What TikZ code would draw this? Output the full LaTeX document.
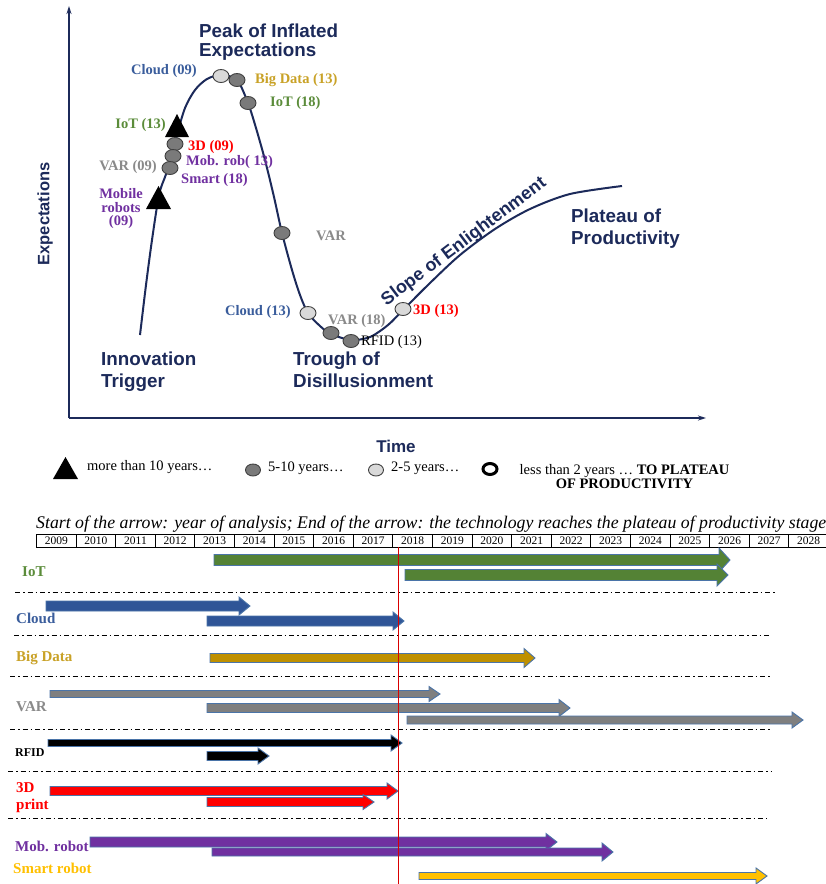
\documentclass[tikz,border=0pt]{standalone}
\usepackage{fontspec}
\setmainfont{Liberation Serif}
\newfontfamily\gsans{Liberation Sans}
\usetikzlibrary{arrows.meta,shapes.geometric}
\definecolor{navy}{HTML}{1C2A5A}
\definecolor{cBlue}{HTML}{3A5D9C}
\definecolor{cGold}{HTML}{C9A227}
\definecolor{cGreen}{HTML}{5B8C3A}
\definecolor{cRed}{HTML}{FF0000}
\definecolor{cPurple}{HTML}{7030A0}
\definecolor{cGray}{HTML}{8A8A8A}
\definecolor{aGreen}{HTML}{548235}
\definecolor{aBlue}{HTML}{2F5597}
\definecolor{aGold}{HTML}{BF9000}
\definecolor{aGray}{HTML}{7F7F7F}
\definecolor{aYellow}{HTML}{FFC000}
\definecolor{aEdge}{HTML}{4A74A8}
\definecolor{dotDark}{HTML}{7A7A7A}
\definecolor{dotLight}{HTML}{D9D9D9}
\newcommand\blockarrow[6]{%
  \draw[aedge, fill=#1] (#2,{#4-#5/2}) -- ({#3-11},{#4-#5/2}) -- ({#3-11},{#4-#6/2}) -- (#3,#4) -- ({#3-11},{#4+#6/2}) -- ({#3-11},{#4+#5/2}) -- (#2,{#4+#5/2}) -- cycle;}
\tikzset{
  aedge/.style={draw=aEdge, line width=0.9pt, line join=miter},
  stage/.style={font=\gsans\bfseries\fontsize{18.8}{20}\selectfont, text=navy, inner sep=0pt, anchor=base west},
  clbl/.style={font=\bfseries\fontsize{14.5}{15}\selectfont, inner sep=0pt},
  tlbl/.style={font=\bfseries\fontsize{15}{16}\selectfont, inner sep=0pt, anchor=west},
  leg/.style={font=\fontsize{14.5}{16}\selectfont, inner sep=0pt},
  darkdot/.style={ellipse, draw=black!75, line width=0.9pt, fill=dotDark, minimum width=16pt, minimum height=13pt, inner sep=0pt},
  lightdot/.style={ellipse, draw=black!75, line width=0.9pt, fill=dotLight, minimum width=16pt, minimum height=13pt, inner sep=0pt},
  sep/.style={line width=1pt, dash pattern=on 5pt off 3pt on 1.5pt off 3pt},
  yearcell/.style={draw=black, line width=0.9pt},
}
\begin{document}
\begin{tikzpicture}[x=1pt,y=-1pt]
\useasboundingbox[fill=white] (0,0) rectangle (826,884);

% axes
\draw[navy, line width=2.2pt, -{Stealth[length=8pt,width=5pt]}] (69,418) -- (706,418);
\draw[navy, line width=2.2pt, -{Stealth[length=8pt,width=5pt]}] (69,418) -- (69,6);
\node[font=\gsans\bfseries\fontsize{16.5}{18}\selectfont, text=navy, rotate=90, inner sep=0pt] (ylab) at (45,214) {Expectations};
\node[font=\gsans\bfseries\fontsize{17}{18}\selectfont, text=navy, inner sep=0pt, anchor=base] (xlab) at (396,452) {Time};

% hype curve
\draw[navy, line width=2pt] plot[smooth, tension=0.5] coordinates {
 (140,335) (146,285) (152,240) (159,195) (165,177) (171,160) (177,135) (185,108) (195,90) (207,79) (221,75)
 (237,80) (248,103) (256,128) (265,160) (274,197) (282,233) (292,270) (300,295) (308,313) (320,326) (331,334)
 (351,340) (370,337) (388,325) (403,310) (430,283) (460,255) (495,229) (530,209) (570,194) (622,186)};

% stage labels
\node[stage] (pk1) at (199,37) {Peak of Inflated};
\node[stage] (pk2) at (199,56) {Expectations};
\node[stage] (in1) at (101,365) {Innovation};
\node[stage] (in2) at (101,387) {Trigger};
\node[stage] (tr1) at (293,365) {Trough of};
\node[stage] (tr2) at (293,387) {Disillusionment};
\node[stage] (pl1) at (571,222) {Plateau of};
\node[stage] (pl2) at (571,244) {Productivity};
\node[font=\gsans\bfseries\fontsize{18}{19}\selectfont, text=navy, inner sep=0pt, rotate=37] (slope) at (464,242) {Slope of Enlightenment};

% markers
\fill[black] (165,137) -- (189,137) -- (177,114) -- cycle;
\fill[black] (146,209) -- (171,209) -- (158.5,186) -- cycle;
\node[lightdot] (d1) at (221,76) {};
\node[darkdot] (d2) at (237,80) {};
\node[darkdot] (d3) at (248,103) {};
\node[darkdot] (d4) at (175,144) {};
\node[darkdot] (d5) at (173,156) {};
\node[darkdot] (d6) at (170,168) {};
\node[darkdot] (d7) at (282,233) {};
\node[lightdot] (d8) at (308,313) {};
\node[darkdot] (d9) at (331,333) {};
\node[darkdot] (d10) at (351,341) {};
\node[lightdot] (d11) at (403,309) {};

% curve labels
\node[clbl, text=cBlue, anchor=east] (l1) at (197,71) {Cloud (09)};
\node[clbl, text=cGold, anchor=west] (l2) at (255,80) {Big Data (13)};
\node[clbl, text=cGreen, anchor=west] (l3) at (270,103) {IoT (18)};
\node[clbl, text=cGreen, anchor=east] (l4) at (166,125) {IoT (13)};
\node[clbl, text=cRed, anchor=west] (l5) at (188,147) {3D (09)};
\node[clbl, text=cPurple, anchor=west] (l6) at (186,162) {Mob. rob( 13)};
\node[clbl, text=cGray, anchor=east] (l7) at (157,167) {VAR (09)};
\node[clbl, text=cPurple, anchor=west] (l8) at (181,180) {Smart (18)};
\node[clbl, text=cPurple, align=center] (l9) at (121,209) {Mobile\\[-1.5pt]robots\\[-1.5pt](09)};
\node[clbl, text=cGray, anchor=west] (l10) at (316,236) {VAR};
\node[clbl, text=cBlue, anchor=east] (l11) at (291,312) {Cloud (13)};
\node[clbl, text=cGray, anchor=west] (l12) at (328,321) {VAR (18)};
\node[clbl, font=\fontsize{14.5}{15}\selectfont, text=black, anchor=west] (l13) at (361,342) {RFID (13)};
\node[clbl, text=cRed, anchor=west] (l14) at (413,311) {3D (13)};

% legend
\fill[black] (53,479) -- (78,479) -- (65.5,457) -- cycle;
\node[leg, anchor=west] (g1) at (87,467) {more than 10 years\ldots};
\node[darkdot, minimum width=15pt, minimum height=12pt] (g2d) at (253,470) {};
\node[leg, anchor=west] (g2) at (268,468) {5-10 years\ldots};
\node[lightdot, minimum width=15pt, minimum height=12pt] (g3d) at (376,470) {};
\node[leg, anchor=west] (g3) at (391,468) {2-5 years\ldots};
\node[ellipse, draw=black, line width=3pt, fill=white, minimum width=14pt, minimum height=11pt, inner sep=0pt] (g4d) at (490,469) {};
\node[leg, align=center] (g4) at (624.5,477) {less than 2 years \ldots{} \textbf{TO PLATEAU}\\[-2pt]\textbf{OF PRODUCTIVITY}};

% timeline caption
\node[inner sep=0pt, anchor=west] (cap) at (36,524) {\resizebox{790pt}{!}{\itshape Start of the arrow: year of analysis; End of the arrow: the technology reaches the plateau of productivity stage}};

% year row
\foreach \i in {0,...,19}{
  \pgfmathsetmacro{\xa}{36.5+39.6*\i}
  \pgfmathsetmacro{\xb}{36.5+39.6*(\i+1)}
  \pgfmathtruncatemacro{\yr}{2009+\i}
  \draw[yearcell] (\xa,534) rectangle (\xb,547);
  \node[inner sep=0pt, font=\fontsize{11.5}{12}\selectfont] (yr\i) at ({(\xa+\xb)/2},541) {\yr};
}

% separators
\draw[sep] (15,592) -- (775,592);
\draw[sep] (14,635) -- (770,635);
\draw[sep] (10,676) -- (770,676);
\draw[sep] (10,729) -- (770,729);
\draw[sep] (8,771) -- (771,771);
\draw[sep] (8,818) -- (767,818);

% row labels
\node[tlbl, text=cGreen] (t1) at (22,572) {IoT};
\node[tlbl, text=cBlue] (t2) at (16,618) {Cloud};
\node[tlbl, text=cGold] (t3) at (16,658) {Big Data};
\node[tlbl, text=cGray] (t4) at (16,707) {VAR};
\node[tlbl, text=black, font=\bfseries\fontsize{12}{13}\selectfont] (t5) at (15,753) {RFID};
\node[tlbl, text=cRed] (t6) at (16,788) {3D};
\node[tlbl, text=cRed] (t7) at (16,806) {print};
\node[tlbl, text=cPurple] (t8) at (15,846) {Mob. robot};
\node[tlbl, text=aYellow] (t9) at (13,868) {Smart robot};

% arrows
\blockarrow{aGreen}{214}{730}{560}{11}{24}
\blockarrow{aGreen}{405}{728}{575}{11}{22}
\blockarrow{aBlue}{46}{250}{606}{10}{18}
\blockarrow{aBlue}{207}{404}{621}{10}{18}
\blockarrow{aGold}{210}{535}{658}{9}{19}
\blockarrow{aGray}{50}{440}{694}{7}{15}
\blockarrow{aGray}{207}{570}{708}{9}{17}
\blockarrow{aGray}{407}{803}{720}{8}{16}
\blockarrow{black}{48}{402}{743}{7}{16}
\blockarrow{black}{207}{269}{756}{9}{16}
\blockarrow{cRed}{50}{398}{791}{9}{16}
\blockarrow{cRed}{207}{374}{802}{9}{15}
\blockarrow{cPurple}{90}{557}{842}{10}{17}
\blockarrow{cPurple}{212}{613}{852}{8}{18}
\blockarrow{aYellow}{419}{767}{876}{7}{16}

% red reference line
\draw[red!85!black, line width=1pt] (398.5,547) -- (398.5,884);
\end{tikzpicture}
\end{document}
